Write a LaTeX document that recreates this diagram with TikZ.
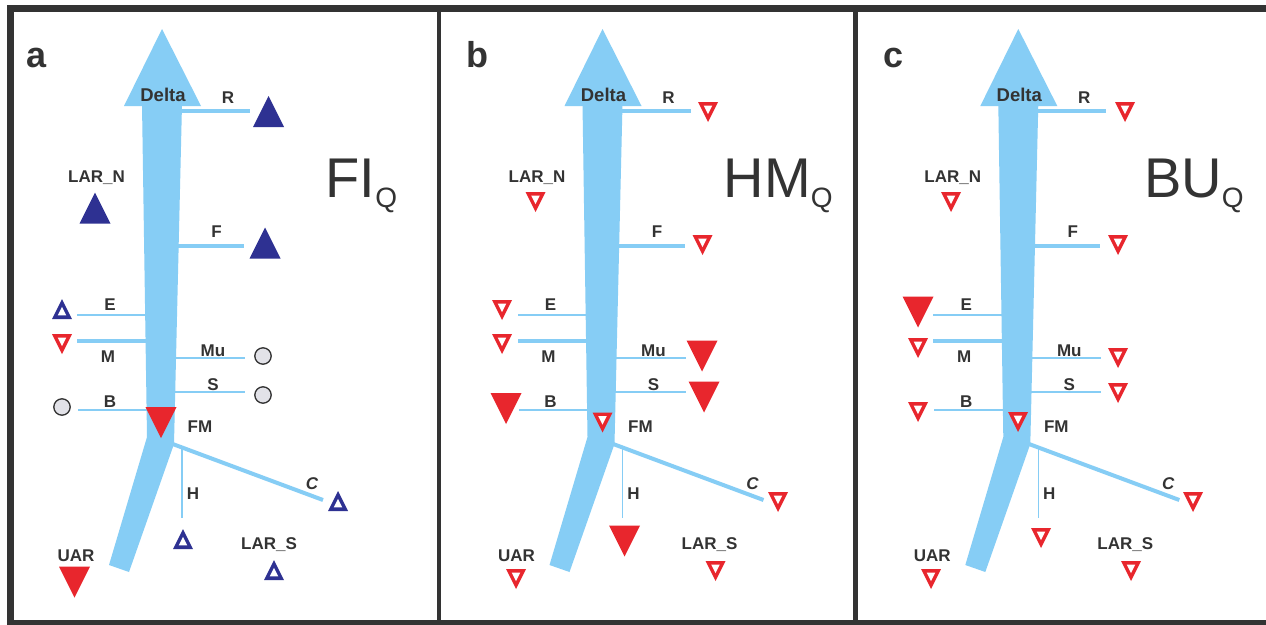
\documentclass[tikz,border=0pt]{standalone}
\usepackage{fontspec}
\setmainfont{Liberation Sans}
\definecolor{navy}{HTML}{2E3192}
\definecolor{mred}{HTML}{E8262D}
\definecolor{sky}{HTML}{86CDF5}
\definecolor{ink}{HTML}{333333}
\definecolor{dotgray}{HTML}{E2E2E8}
\tikzset{
  lab/.style={font=\bfseries\fontsize{17}{17}\selectfont, text=ink, inner sep=0pt, anchor=base},
  dlab/.style={font=\bfseries\fontsize{18.5}{18.5}\selectfont, text=ink, inner sep=0pt, anchor=base},
  plab/.style={font=\bfseries\fontsize{36}{36}\selectfont, text=ink, inner sep=0pt, anchor=base},
  big/.style={font=\fontsize{56}{56}\selectfont, text=ink, inner sep=0pt, anchor=base west},
  branch/.style={draw=sky, line cap=butt},
  pics/fillup/.style={code={\fill[navy] (-15.5,15.5) -- (15.5,15.5) -- (0,-15.5) -- cycle;}},
  pics/filldn/.style={code={\fill[mred] (-15.5,-15.5) -- (15.5,-15.5) -- (0,15.5) -- cycle;}},
  pics/openup/.style={code={\fill[navy] (-10,10) -- (10,10) -- (0,-10) -- cycle;
      \fill[white] (-4.3,6.48) -- (4.3,6.48) -- (0,-2.12) -- cycle;}},
  pics/opendn/.style={code={\fill[mred] (-10,-10) -- (10,-10) -- (0,10) -- cycle;
      \fill[white] (-4.3,-6.48) -- (4.3,-6.48) -- (0,2.12) -- cycle;}},
  pics/dot/.style={code={\draw[ink, fill=dotgray, line width=1.3pt] (0,0) circle[radius=8.2pt];}},
}
\newcommand\mypanel[3]{%
\begin{scope}[xshift=#1pt]
  % branches
  \draw[branch, line width=3.4pt] (178,111) coordinate (#2Rs) -- (250,111) coordinate (#2Re);
  \draw[branch, line width=4.8pt] (175,246) coordinate (#2Fs) -- (244,246) coordinate (#2Fe);
  \draw[branch, line width=1.8pt] (150,315) coordinate (#2Es) -- (77,315) coordinate (#2Ee);
  \draw[branch, line width=3.2pt] (150,341) coordinate (#2Ms) -- (77,341) coordinate (#2Me);
  \draw[branch, line width=1.8pt] (172,358) coordinate (#2Mus) -- (245,358) coordinate (#2Mue);
  \draw[branch, line width=2pt] (172,392) coordinate (#2Ss) -- (245,392) coordinate (#2Se);
  \draw[branch, line width=1.4pt] (151,410) coordinate (#2Bs) -- (78,410) coordinate (#2Be);
  \draw[branch, line width=4pt] (170,443) coordinate (#2Cs) -- (323,500) coordinate (#2Ce);
  \draw[branch, line width=1.6pt] (182,448) coordinate (#2Hs) -- (182,518) coordinate (#2He);
  % main river
  \fill[sky] (142,104) -- (182,104) -- (174,444) -- (129,572) -- (109,565) -- (147,437) -- cycle;
  \fill[sky] (124,106) -- (201,106) -- (162,29) -- cycle;
  % labels
  \node[dlab] (#2delta) at (163,101) {Delta};
  \node[lab] (#2lR) at (228,103) {R};
  \node[lab] (#2lLN) at (96.5,182) {LAR\_N};
  \node[lab] (#2lF) at (216.5,237) {F};
  \node[lab] (#2lE) at (110,310) {E};
  \node[lab] (#2lM) at (108,362) {M};
  \node[lab] (#2lMu) at (213,356) {Mu};
  \node[lab] (#2lS) at (213,390) {S};
  \node[lab] (#2lB) at (110,407) {B};
  \node[lab] (#2lFM) at (200,432) {FM};
  \node[lab, font=\bfseries\itshape\fontsize{17}{17}\selectfont] (#2lC) at (312,489) {C};
  \node[lab] (#2lH) at (193,499) {H};
  \node[lab] (#2lLS) at (269,549) {LAR\_S};
  \node[lab] (#2lU) at (76,561) {UAR};
  \node[plab] (#2letter) at (37,67) {#3};
\end{scope}}

\begin{document}
\begin{tikzpicture}[x=1pt,y=-1pt]
\useasboundingbox (0,0) rectangle (1266,624);
\clip (0,0) rectangle (1266,624);
\fill[white] (0,0) rectangle (1266,624);

\mypanel{0}{a}{a}
\mypanel{440.5}{b}{b}
\mypanel{856.3}{c}{c}

% big titles
\node[big] (tA) at (325.5,197) {FI\raisebox{-10pt}{\fontsize{28}{28}\selectfont Q}};
\node[big] (tB) at (723.6,197) {HM\raisebox{-10pt}{\fontsize{28}{28}\selectfont Q}};
\node[big] (tC) at (1143.8,197) {BU\raisebox{-10pt}{\fontsize{28}{28}\selectfont Q}};

% panel a markers
\pic (maR) at (268.5,111.5) {fillup};
\pic (maLN) at (95,208) {fillup};
\pic (maF) at (265,243) {fillup};
\pic (maE) at (62,309) {openup};
\pic (maM) at (62,344) {opendn};
\pic (maMu) at (263,356) {dot};
\pic (maS) at (263,395) {dot};
\pic (maB) at (62,407) {dot};
\pic (maFM) at (161,422.5) {filldn};
\pic (maC) at (338,501) {openup};
\pic (maH) at (183,539) {openup};
\pic (maLS) at (274,570) {openup};
\pic (maU) at (74.5,582) {filldn};

% panel b markers
\pic (mbR) at (708,112) {opendn};
\pic (mbLN) at (535.5,202) {opendn};
\pic (mbF) at (702.5,245) {opendn};
\pic (mbE) at (502,310) {opendn};
\pic (mbM) at (502,344) {opendn};
\pic (mbMu) at (702,356) {filldn};
\pic (mbS) at (704,397) {filldn};
\pic (mbB) at (506,408.5) {filldn};
\pic (mbFM) at (602.5,422.5) {opendn};
\pic (mbC) at (778,502) {opendn};
\pic (mbH) at (624.5,541) {filldn};
\pic (mbLS) at (715.5,571) {opendn};
\pic (mbU) at (516,579) {opendn};

% panel c markers
\pic (mcR) at (1125,112) {opendn};
\pic (mcLN) at (951,202) {opendn};
\pic (mcF) at (1118,245) {opendn};
\pic (mcE) at (918,312) {filldn};
\pic (mcM) at (918,348) {opendn};
\pic (mcMu) at (1118,358) {opendn};
\pic (mcS) at (1118,393) {opendn};
\pic (mcB) at (918,412) {opendn};
\pic (mcFM) at (1018,422) {opendn};
\pic (mcC) at (1193,502) {opendn};
\pic (mcH) at (1041,538) {opendn};
\pic (mcLS) at (1131,571) {opendn};
\pic (mcU) at (931,579) {opendn};

% frame
\draw[ink, line width=6.5pt] (10.3,8.3) rectangle (1290,623);
\draw[ink, line width=4.5pt] (439,8) -- (439,623);
\draw[ink, line width=4.5pt] (855.5,8) -- (855.5,623);
\end{tikzpicture}
\end{document}
